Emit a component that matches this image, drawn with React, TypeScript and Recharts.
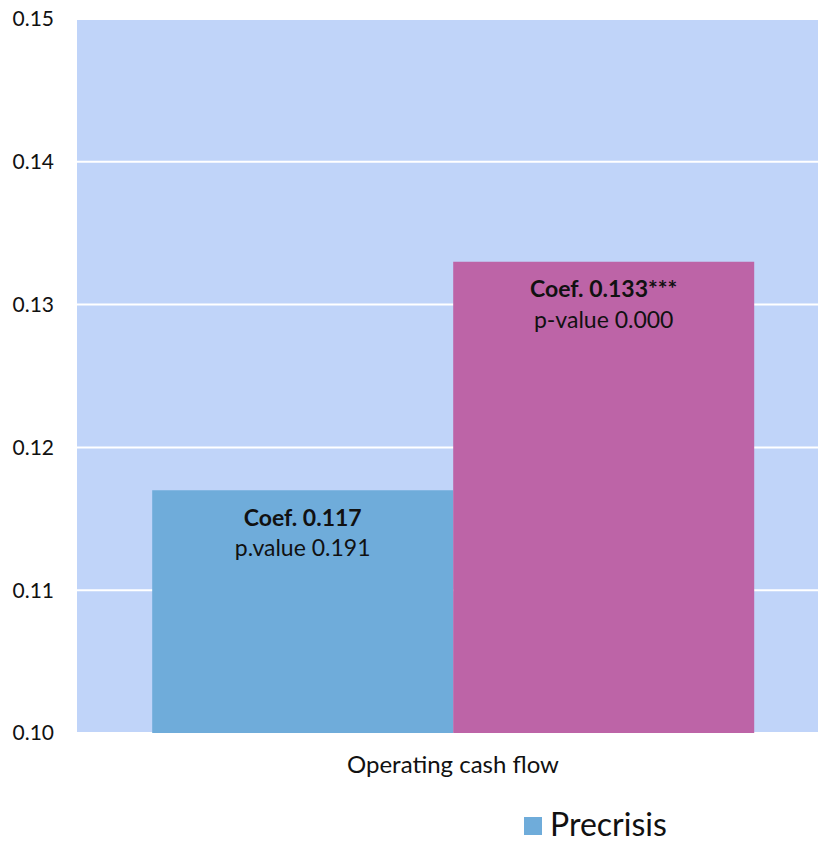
import React from 'react';
import { BarChart, Bar, XAxis, YAxis, CartesianGrid, Legend, LabelList } from 'recharts';

const categories = ['Operating cash flow'];
const precrisisCoef = [0.117];
const crisisCoef = [0.133];
const precrisisStars = [''];
const crisisStars = ['***'];
const precrisisPText = ['p.value 0.191'];
const crisisPText = ['p-value 0.000'];
const yTicks = [0.1, 0.11, 0.12, 0.13, 0.14, 0.15];

const BLUE = '#6FACDA';
const MAGENTA = '#BD64A7';
const PLOT_BG = '#C0D4F9';
const FONT = 'Lato, "Open Sans", sans-serif';

const data = categories.map((category, i) => ({
  category,
  precrisis: precrisisCoef[i],
  crisis: crisisCoef[i],
  precrisisCoefText: `Coef. ${precrisisCoef[i].toFixed(3)}${precrisisStars[i]}`,
  crisisCoefText: `Coef. ${crisisCoef[i].toFixed(3)}${crisisStars[i]}`,
  precrisisPText: precrisisPText[i],
  crisisPText: crisisPText[i],
}));

// text line placed inside the top of a bar
const barText = (dy: number, bold: boolean) => (props: any) => {
  const { x, y, width, value } = props;
  return (
    <text
      x={Number(x) + Number(width) / 2}
      y={Number(y) + dy}
      textAnchor="middle"
      fontFamily={FONT}
      fontSize={23}
      fontWeight={bold ? 700 : 400}
      fill="#111"
    >
      {value}
    </text>
  );
};

const LegendContent = () => (
  <div style={{ display: 'flex', alignItems: 'center', fontFamily: FONT, fontSize: 32, lineHeight: '32px', color: '#111' }}>
    <span style={{ width: 18, height: 18, background: BLUE, display: 'inline-block', marginRight: 8, marginTop: 4 }} />
    <span>Precrisis</span>
  </div>
);

export default function App() {
  return (
    <div style={{ position: 'absolute', left: 0, top: 0, width: 818, height: 842, overflow: 'hidden', background: '#fff' }}>
      <BarChart
        width={829}
        height={842}
        data={data}
        margin={{ top: 19, right: 0, left: 0, bottom: 49 }}
        barGap={0}
        barCategoryGap="10%"
      >
        <CartesianGrid vertical={false} stroke="#fff" strokeWidth={2} fill={PLOT_BG} />
        <XAxis
          dataKey="category"
          axisLine={false}
          tickLine={false}
          tickSize={0}
          tickMargin={23}
          height={60}
          tick={{ fontFamily: FONT, fontSize: 24, fill: '#111' }}
        />
        <YAxis
          domain={[0.1, 0.15]}
          ticks={yTicks}
          allowDataOverflow
          tickFormatter={(v: number) => v.toFixed(2)}
          axisLine={false}
          tickLine={false}
          tickSize={0}
          tickMargin={23}
          width={77}
          tick={{ fontFamily: FONT, fontSize: 21, fill: '#111' }}
        />
        <Legend
          verticalAlign="middle"
          align="center"
          layout="horizontal"
          wrapperStyle={{ left: 524, top: 808, width: 220, height: 32 }}
          content={LegendContent}
        />
        <Bar dataKey="precrisis" name="Precrisis" fill={BLUE} isAnimationActive={false}>
          <LabelList dataKey="precrisisCoefText" content={barText(36, true)} />
          <LabelList dataKey="precrisisPText" content={barText(66, false)} />
        </Bar>
        <Bar dataKey="crisis" name="Crisis" fill={MAGENTA} isAnimationActive={false}>
          <LabelList dataKey="crisisCoefText" content={barText(35, true)} />
          <LabelList dataKey="crisisPText" content={barText(66, false)} />
        </Bar>
      </BarChart>
    </div>
  );
}
